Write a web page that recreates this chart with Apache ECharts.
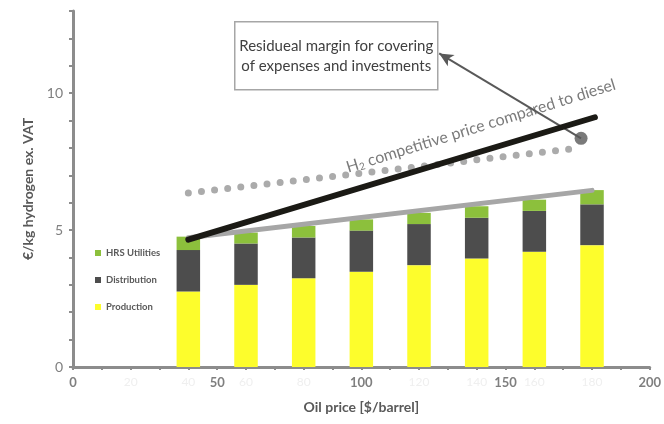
<!DOCTYPE html>
<html>
<head>
<meta charset="utf-8">
<script src="https://cdn.jsdelivr.net/npm/echarts@6/dist/echarts.min.js"></script>
<style>
html,body{margin:0;padding:0;background:#fff;}
#chart{width:664px;height:424px;}
</style>
</head>
<body>
<div id="chart"></div>
<script>
// Oil price scenarios ($/barrel) for the stacked cost bars
const oilPrice = [40, 60, 80, 100, 120, 140, 160, 180];
// Hydrogen cost components (€/kg ex. VAT)
const production   = [2.76, 3.00, 3.24, 3.48, 3.72, 3.96, 4.21, 4.45];
const distribution = [1.51, 1.51, 1.49, 1.50, 1.50, 1.49, 1.49, 1.49];
const utilities    = [0.49, 0.40, 0.42, 0.41, 0.41, 0.42, 0.41, 0.52];

// Trend of total hydrogen cost
const costTrendX = [40, 180];
const costTrendY = [4.72, 6.45];
// Competitive price of H2 compared to diesel
const competitiveX = [40, 181];
const competitiveY = [4.65, 9.12];
// Dotted reference line
const dottedX = [40, 176];
const dottedY = [6.35, 8.0];
// Highlighted point and the arrow towards the note
const highlight = [176.2, 8.35];
const arrowEnd = [127, 11.45];
// Position of the rotated line caption
const captionAt = [141.5, 8.8];

const xTickLabels = [0, 50, 100, 150, 200];
const yTickLabels = [0, 5, 10];
// Evenly spaced slots (every 20 $/barrel) that carry the stacked bars
const barSlots = [0, 20, 40, 60, 80, 100, 120, 140, 160, 180, 200];

const pairs = (xs, ys) => xs.map((x, i) => [x, ys[i]]);
const slotPairs = ys => oilPrice.map((x, i) => [String(x), ys[i]]);

const chart = echarts.init(document.getElementById('chart'), null, {renderer: 'canvas'});
const axisGray = '#8c8c8c';
const textGray = '#595959';
const font = 'Lato, "Open Sans", sans-serif';

const option = {
  animation: false,
  textStyle: {fontFamily: font},
  grid: {left: 73, right: 14, top: 11, bottom: 57},
  legend: {
    orient: 'vertical',
    left: 90, top: 243,
    itemWidth: 6, itemHeight: 6, itemGap: 17,
    icon: 'rect',
    textStyle: {fontSize: 9.5, fontWeight: 'bold', color: textGray, fontFamily: font},
    data: ['HRS Utilities', 'Distribution', 'Production']
  },
  xAxis: [{
    type: 'value', min: 0, max: 200, interval: 10,
    name: 'Oil price [$/barrel]', nameLocation: 'middle', nameGap: 33,
    nameTextStyle: {fontSize: 14, fontWeight: 'bold', color: textGray, fontFamily: font},
    axisLine: {lineStyle: {color: axisGray, width: 3}},
    axisTick: {length: 3, lineStyle: {color: axisGray, width: 2}},
    axisLabel: {
      fontSize: 13, fontWeight: 'bold', color: '#7f7f7f', margin: 9,
      formatter: v => xTickLabels.includes(v) ? String(v) : ''
    },
    splitLine: {show: false}
  }, {
    type: 'value', min: 0, max: 200, interval: 20, position: 'bottom',
    axisLine: {show: false}, axisTick: {show: false}, splitLine: {show: false},
    axisLabel: {
      fontSize: 12, color: '#efefef', margin: 9,
      formatter: v => xTickLabels.includes(v) ? '' : String(v)
    }
  }, {
    type: 'category', data: barSlots.map(String), boundaryGap: false, position: 'bottom',
    axisLine: {show: false}, axisTick: {show: false}, axisLabel: {show: false}, splitLine: {show: false}
  }],
  yAxis: {
    type: 'value', min: 0, max: 13, interval: 1,
    name: '€/kg hydrogen ex. VAT', nameLocation: 'middle', nameGap: 34,
    nameTextStyle: {fontSize: 14, fontWeight: 'bold', color: textGray, fontFamily: font},
    axisLine: {show: true, lineStyle: {color: axisGray, width: 3}},
    axisTick: {show: true, length: 4, lineStyle: {color: axisGray, width: 2}},
    axisLabel: {
      fontSize: 14, color: '#808080', margin: 10,
      formatter: v => yTickLabels.includes(v) ? String(v) : ''
    },
    splitLine: {show: false}
  },
  series: [
    {name: 'Production', type: 'bar', stack: 'cost', barWidth: 23.5, xAxisIndex: 2,
     itemStyle: {color: '#fdfd2c'}, data: slotPairs(production)},
    {name: 'Distribution', type: 'bar', stack: 'cost', barWidth: 23.5, xAxisIndex: 2,
     itemStyle: {color: '#4d4d4d'}, data: slotPairs(distribution)},
    {name: 'HRS Utilities', type: 'bar', stack: 'cost', barWidth: 23.5, xAxisIndex: 2,
     itemStyle: {color: '#8cc03c'}, data: slotPairs(utilities)},
    {type: 'line', data: pairs(dottedX, dottedY), symbol: 'none', z: 3,
     lineStyle: {color: '#ababab', width: 7, type: [0, 13.2], cap: 'round'}},
    {type: 'line', data: pairs(costTrendX, costTrendY), symbol: 'none', z: 4,
     lineStyle: {color: '#a6a6a6', width: 5, cap: 'round'}},
    {type: 'line', data: pairs(competitiveX, competitiveY), symbol: 'none', z: 5,
     lineStyle: {color: '#1b1a15', width: 6, cap: 'round'}},
    {type: 'scatter', data: [highlight], symbol: 'circle', symbolSize: 13, z: 7,
     itemStyle: {color: '#595959'},
     markLine: {
       silent: true, symbol: ['none', 'arrow'], symbolSize: [10, 14],
       lineStyle: {color: '#595959', width: 2, type: 'solid'},
       label: {show: false},
       data: [[{coord: highlight}, {coord: arrowEnd}]]
     }},
    {type: 'scatter', data: [captionAt], symbolSize: 0, z: 8, silent: true,
     label: {
       show: true, position: 'inside', rotate: 17.3,
       formatter: 'H{s|2} competitive price compared to diesel',
       fontSize: 16, color: textGray, fontFamily: font,
       rich: {s: {fontSize: 10, color: textGray, verticalAlign: 'bottom', padding: [7, 0, 0, 0], fontFamily: font}}
     }}
  ],
  graphic: [{
    type: 'group', left: 234, top: 21,
    children: [
      {type: 'rect', shape: {x: 0, y: 0, width: 203, height: 68},
       style: {fill: '#fff', stroke: '#a6a6a6', lineWidth: 1.5}},
      {type: 'text', x: 101.5, y: 34,
       style: {text: 'Residueal margin for covering\nof expenses and investments',
               fill: '#404040', font: '15px ' + font, align: 'center',
               verticalAlign: 'middle', lineHeight: 20}}
    ]
  }]
};
chart.setOption(option);
</script>
</body>
</html>
